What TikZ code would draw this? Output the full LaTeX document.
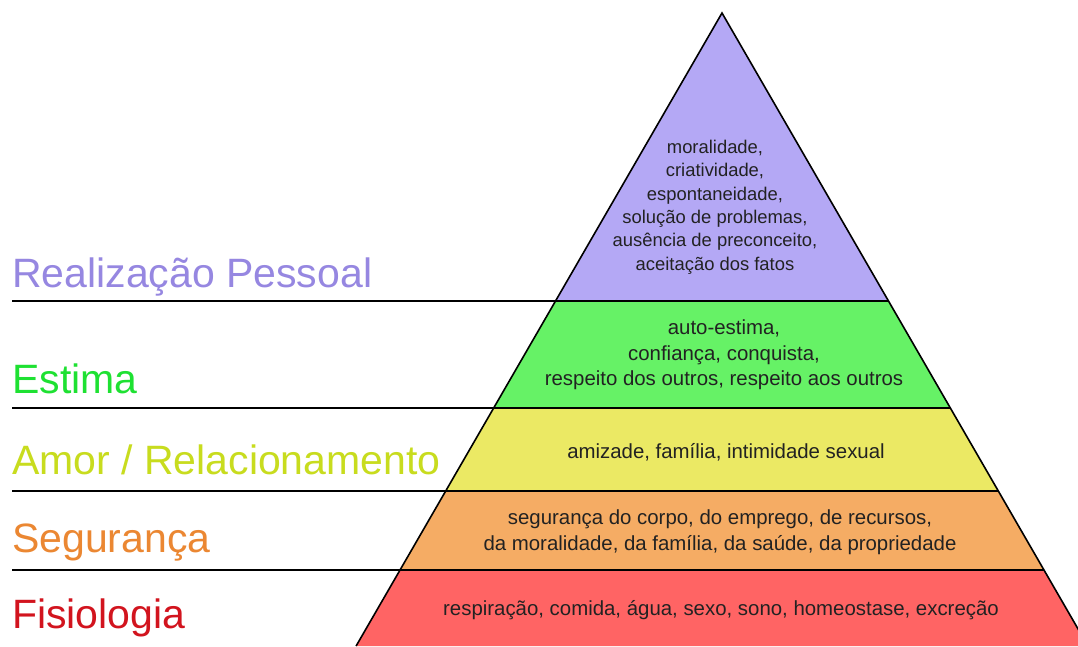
\documentclass[tikz,border=0pt]{standalone}
\usepackage{fontspec}
\setmainfont{Liberation Sans}
\definecolor{fillP}{HTML}{B4A8F5}
\definecolor{fillG}{HTML}{66F266}
\definecolor{fillY}{HTML}{EBE964}
\definecolor{fillO}{HTML}{F5AC64}
\definecolor{fillR}{HTML}{FF6464}
\definecolor{txtP}{HTML}{9687E1}
\definecolor{txtG}{HTML}{1EE132}
\definecolor{txtY}{HTML}{C8DC1E}
\definecolor{txtO}{HTML}{EB8732}
\definecolor{txtR}{HTML}{D2141E}
\definecolor{ink}{HTML}{222222}
\begin{document}
\begin{tikzpicture}[x=1pt,y=-1pt,
  level/.style={inner sep=0pt,anchor=base west,font=\fontsize{41}{48}\selectfont},
  inbig/.style={inner sep=0pt,align=center,text=ink,font=\fontsize{20.4}{25.5}\selectfont},
  insmall/.style={inner sep=0pt,align=center,text=ink,font=\fontsize{18.4}{23.4}\selectfont},
  sep/.style={draw=black,line width=2pt},
  edge/.style={draw=black,line width=1.6pt,line join=miter}]
\useasboundingbox (0,0) rectangle (1078,646);
\clip (0,0) rectangle (1078,646);
\fill[white] (0,0) rectangle (1078,646);
% apex and band corners
\coordinate (apex) at (722,13);
\coordinate (L1) at (555.5,301); \coordinate (R1) at (888.5,301);
\coordinate (L2) at (493.7,408); \coordinate (R2) at (950.3,408);
\coordinate (L3) at (445.7,491); \coordinate (R3) at (998.3,491);
\coordinate (L4) at (400.1,570); \coordinate (R4) at (1043.9,570);
\coordinate (L5) at (356.1,646); \coordinate (R5) at (1087.9,646);
% left ends of separator lines
\coordinate (S1) at (12,301);
\coordinate (S2) at (12,408);
\coordinate (S3) at (12,491);
\coordinate (S4) at (12,570);
% bands
\fill[fillP] (apex) -- (R1) -- (L1) -- cycle;
\fill[fillG] (L1) -- (R1) -- (R2) -- (L2) -- cycle;
\fill[fillY] (L2) -- (R2) -- (R3) -- (L3) -- cycle;
\fill[fillO] (L3) -- (R3) -- (R4) -- (L4) -- cycle;
\fill[fillR] (L4) -- (R4) -- (R5) -- (L5) -- cycle;
% separators
\draw[sep] (S1) -- (R1);
\draw[sep] (S2) -- (R2);
\draw[sep] (S3) -- (R3);
\draw[sep] (S4) -- (R4);
% pyramid sides
\draw[edge] (L5) -- (apex) -- (R5);
% level labels
\node[level,text=txtP] (lp) at (12,287) {Realização Pessoal};
\node[level,text=txtG] (lg) at (12,393) {Estima};
\node[level,text=txtY] (ly) at (12,474) {Amor / Relacionamento};
\node[level,text=txtO] (lo) at (12,552) {Segurança};
\node[level,text=txtR] (lr) at (12,628) {Fisiologia};
% band contents
\node[insmall] (tp) at (715,207) {moralidade,\\criatividade,\\espontaneidade,\\solução de problemas,\\ausência de preconceito,\\aceitação dos fatos};
\node[inbig] (tg) at (724,355) {auto-estima,\\confiança, conquista,\\respeito dos outros, respeito aos outros};
\node[inbig] (ty) at (726,452) {amizade, família, intimidade sexual};
\node[inbig] (to) at (720,532) {segurança do corpo, do emprego, de recursos,\\da moralidade, da família, da saúde, da propriedade};
\node[inbig] (tr) at (721,610) {respiração, comida, água, sexo, sono, homeostase, excreção};
\end{tikzpicture}
\end{document}
